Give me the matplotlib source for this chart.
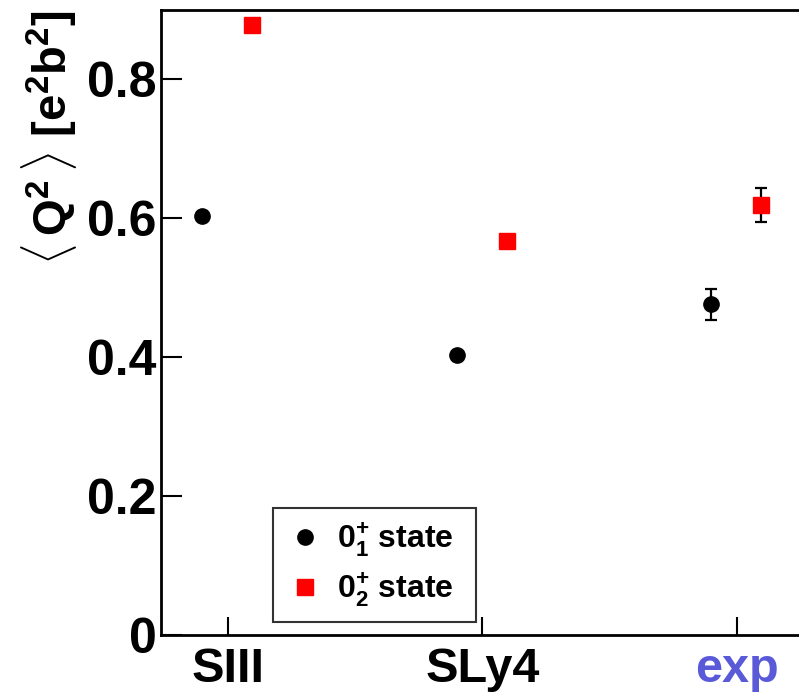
import numpy as np
import matplotlib.pyplot as plt
from matplotlib.lines import Line2D

plt.rcParams['font.family'] = ['Liberation Sans', 'DejaVu Sans']
plt.rcParams['font.weight'] = 'bold'
plt.rcParams['mathtext.fontset'] = 'custom'
plt.rcParams['mathtext.rm'] = 'Liberation Sans:bold'
plt.rcParams['mathtext.it'] = 'Liberation Sans:bold'
plt.rcParams['mathtext.bf'] = 'Liberation Sans:bold'

# data
models = ['SIII', 'SLy4', 'exp']
q2_state1 = [0.604, 0.403, 0.476]
q2_state2 = [0.878, 0.567, 0.619]
err_state1 = [0, 0, 0.022]
err_state2 = [0, 0, 0.024]
labels = [r'$0^{+}_{1}$ state', r'$0^{+}_{2}$ state']

x = np.arange(1, len(models) + 1)

fig = plt.figure(figsize=(7.99, 6.98), dpi=100)
ax = fig.add_axes([161 / 799, 63 / 698, 638 / 799, 625 / 698])

ax.errorbar(x - 0.1, q2_state1, yerr=err_state1, fmt='o', color='black',
            markersize=11, ecolor='black', elinewidth=1.6, capsize=4, capthick=1.6)
ax.errorbar(x + 0.095, q2_state2, yerr=err_state2, fmt='s', color='red',
            markersize=11, ecolor='black', elinewidth=1.6, capsize=4, capthick=1.6)

ax.set_xlim(0.737, 3.244)
ax.set_ylim(0, 0.9)
ax.set_xticks(x)
ax.set_xticklabels(models, fontsize=35, fontweight='bold')
ax.get_xticklabels()[2].set_color('#5a5ad8')
ax.set_yticks([0, 0.2, 0.4, 0.6, 0.8])
ax.set_yticklabels(['0', '0.2', '0.4', '0.6', '0.8'], fontsize=36, fontweight='bold')

ax.tick_params(axis='y', direction='in', length=15, width=1.5, pad=3)
ax.tick_params(axis='x', direction='in', length=13, width=1.5, pad=9)
for s in ['left', 'bottom', 'top']:
    ax.spines[s].set_linewidth(2)
ax.spines['right'].set_visible(False)

ax.set_ylabel(r'$\langle\,$Q$^{2}\,\rangle$ [e$^{2}$b$^{2}$]', fontsize=34,
              fontweight='bold', ha='right', va='center')
ax.yaxis.set_label_coords(-0.175, 1.0)

handles = [Line2D([], [], ls='none', marker='o', color='black', markersize=11),
           Line2D([], [], ls='none', marker='s', color='red', markersize=11)]
leg = ax.legend(handles, labels, loc='lower left',
                bbox_to_anchor=(112 / 638, 13 / 625, 203 / 638, 111 / 625),
                mode='expand', borderaxespad=0, fontsize=23, frameon=True,
                fancybox=False, edgecolor='black', handletextpad=0.4,
                handlelength=1.2, borderpad=0.4, labelspacing=0.4, numpoints=1)
leg.get_frame().set_linewidth(1.5)
for t in leg.get_texts():
    t.set_fontweight('bold')

fig.savefig('out.png', dpi=100)
